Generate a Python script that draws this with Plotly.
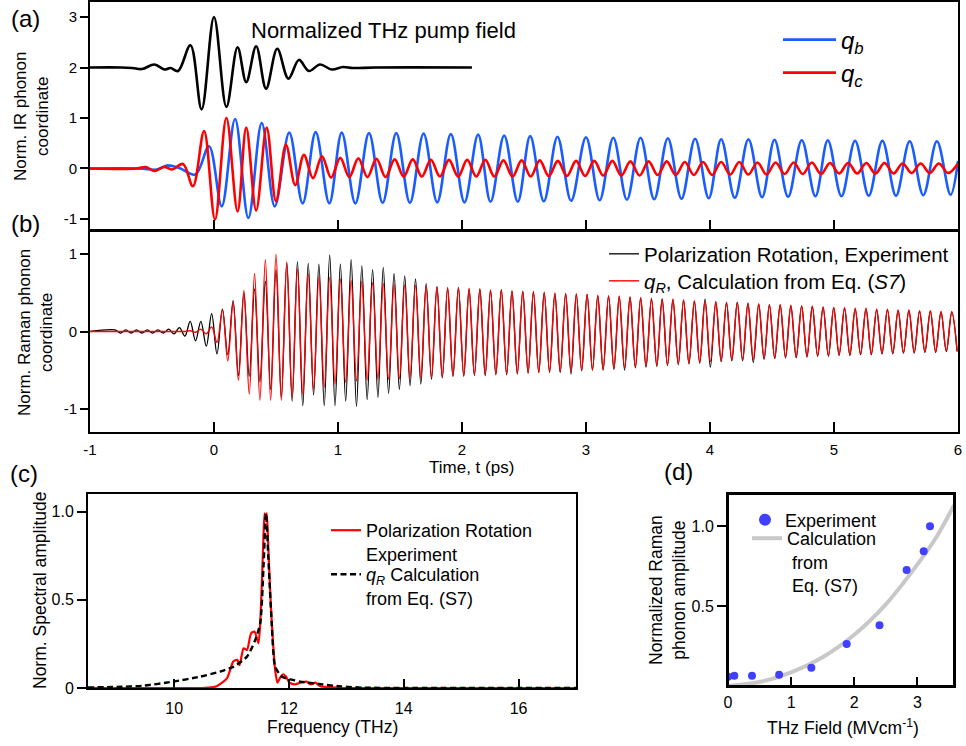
import plotly.graph_objects as go

# ---------------- DATA ----------------
# (a) normalized THz pump field (plotted around an offset of 2)
PUMP_T = [-1.0, -0.75, -0.66, -0.58, -0.48, -0.40, -0.35, -0.29, -0.19, -0.10, 0.0, 0.10, 0.19,
          0.26, 0.34, 0.42, 0.51, 0.60, 0.685, 0.765, 0.855, 0.95, 1.04, 1.12, 1.30, 2.08]
PUMP_V = [2.0, 2.0, 1.99, 1.97, 2.06, 1.96, 1.99, 1.93, 2.44, 1.17, 3.0, 1.22, 2.40,
          1.71, 2.42, 1.58, 2.37, 1.78, 2.15, 1.93, 2.06, 1.96, 2.01, 1.99, 2.0, 2.0]

# (a) IR phonon coordinate q_b (extrema)
QB_T = [-1.0, -0.60, -0.46, -0.38, -0.28, -0.15, -0.04,
        0.062, 0.17, 0.277, 0.385, 0.49, 0.607, 0.715, 0.82, 0.93, 1.03,
        1.14, 1.25, 1.36, 1.47, 1.58, 1.69, 1.80, 1.91, 2.02, 2.13,
        2.23, 2.34, 2.45, 2.55, 2.66, 2.77, 2.88, 3.00, 3.11, 3.22,
        3.33, 3.44, 3.55, 3.66, 3.77, 3.88, 3.99, 4.09, 4.20, 4.31,
        4.42, 4.52, 4.63, 4.74, 4.85, 4.95, 5.06, 5.17, 5.28, 5.39,
        5.50, 5.61, 5.72, 5.83, 5.94, 6.0]
QB_V = [0.0, 0.0, -0.02, 0.06, 0.01, -0.12, 0.44,
        -0.75, 0.98, -0.98, 0.90, -0.75, 0.71, -0.69, 0.72, -0.69, 0.71,
        -0.69, 0.70, -0.68, 0.70, -0.68, 0.69, -0.67, 0.68, -0.67, 0.67,
        -0.66, 0.65, -0.66, 0.64, -0.65, 0.63, -0.64, 0.62, -0.63, 0.61,
        -0.62, 0.61, -0.61, 0.60, -0.60, 0.59, -0.59, 0.58, -0.58, 0.58,
        -0.57, 0.57, -0.56, 0.56, -0.55, 0.56, -0.55, 0.55, -0.54, 0.55,
        -0.54, 0.54, -0.53, 0.54, -0.52, 0.15]

# (a) IR phonon coordinate q_c (extrema)
QC_T = [-1.0, -0.62, -0.55, -0.48, -0.40, -0.34, -0.25, -0.17, -0.08, 0.008,
        0.10, 0.19, 0.26, 0.34, 0.425, 0.50, 0.58, 0.655,
        0.725, 0.798, 0.871, 0.944, 1.018, 1.091, 1.164, 1.237, 1.310, 1.384,
        1.457, 1.530, 1.603, 1.676, 1.749, 1.822, 1.895, 1.969, 2.042, 2.115,
        2.188, 2.261, 2.334, 2.408, 2.481, 2.554, 2.627, 2.700, 2.773, 2.846,
        2.920, 2.993, 3.066, 3.139, 3.212, 3.285, 3.358, 3.432, 3.505, 3.578,
        3.651, 3.724, 3.797, 3.870, 3.944, 4.017, 4.090, 4.163, 4.236, 4.309,
        4.383, 4.456, 4.529, 4.602, 4.675, 4.748, 4.821, 4.895, 4.968, 5.041,
        5.114, 5.187, 5.260, 5.334, 5.407, 5.480, 5.553, 5.626, 5.699, 5.772,
        5.846, 5.919, 6.0]
QC_V = [0.0, 0.0, 0.03, -0.05, 0.03, -0.02, 0.09, -0.35, 0.74, -1.01,
        1.0, -0.85, 0.81, -0.83, 0.81, -0.65, 0.47, -0.33,
        0.27, -0.19, 0.24, -0.18, 0.21, -0.17, 0.20, -0.17, 0.19, -0.17,
        0.18, -0.16, 0.18, -0.16, 0.17, -0.16, 0.17, -0.16, 0.17, -0.16,
        0.17, -0.16, 0.16, -0.16, 0.16, -0.16, 0.16, -0.15, 0.15, -0.15,
        0.15, -0.15, 0.15, -0.14, 0.15, -0.14, 0.14, -0.14, 0.14, -0.13,
        0.14, -0.13, 0.13, -0.13, 0.13, -0.13, 0.13, -0.12, 0.13, -0.12,
        0.12, -0.12, 0.12, -0.11, 0.12, -0.11, 0.12, -0.11, 0.11, -0.10,
        0.11, -0.10, 0.11, -0.10, 0.11, -0.10, 0.10, -0.09, 0.10, -0.09,
        0.10, -0.09, 0.10]

# (b) Raman phonon coordinate: times of extrema, experiment (black) and calculation (red)
RAMAN_T = [-1.0,
    -0.798, -0.754, -0.711, -0.668, -0.625, -0.581, -0.538, -0.495, -0.452, -0.408,
    -0.365, -0.322, -0.279, -0.235, -0.192, -0.149, -0.106, -0.062, -0.019, 0.024,
    0.068, 0.111, 0.154, 0.197, 0.241, 0.284, 0.327, 0.370, 0.414, 0.457,
    0.500, 0.543, 0.587, 0.630, 0.673, 0.716, 0.760, 0.803, 0.846, 0.889,
    0.933, 0.976, 1.019, 1.062, 1.106, 1.149, 1.192, 1.235, 1.279, 1.322,
    1.365, 1.408, 1.452, 1.495, 1.538, 1.581, 1.625, 1.668, 1.711, 1.754,
    1.798, 1.841, 1.884, 1.927, 1.971, 2.014, 2.057, 2.100, 2.144, 2.187,
    2.230, 2.273, 2.317, 2.360, 2.403, 2.446, 2.490, 2.533, 2.576, 2.619,
    2.663, 2.706, 2.749, 2.792, 2.836, 2.879, 2.922, 2.965, 3.009, 3.052,
    3.095, 3.138, 3.182, 3.225, 3.268, 3.311, 3.355, 3.398, 3.441, 3.484,
    3.528, 3.571, 3.614, 3.657, 3.701, 3.744, 3.787, 3.830, 3.874, 3.917,
    3.960, 4.003, 4.047, 4.090, 4.133, 4.176, 4.220, 4.263, 4.306, 4.349,
    4.393, 4.436, 4.479, 4.522, 4.566, 4.609, 4.652, 4.695, 4.739, 4.782,
    4.825, 4.868, 4.912, 4.955, 4.998, 5.041, 5.085, 5.128, 5.171, 5.214,
    5.258, 5.301, 5.344, 5.387, 5.431, 5.474, 5.517, 5.560, 5.604, 5.647,
    5.690, 5.733, 5.777, 5.820, 5.863, 5.906, 5.950, 5.993]
RAMAN_EXP = [0.0,
    0.02, -0.02, 0.02, -0.02, 0.02, -0.02, 0.02, -0.02, 0.02, -0.02,
    0.03, -0.03, 0.05, -0.06, 0.13, -0.12, 0.13, -0.19, 0.23, -0.29,
    0.29, -0.30, 0.40, -0.57, 0.50, -0.58, 0.55, -0.65, 0.65, -0.75,
    0.80, -0.85, 0.88, -0.90, 0.90, -0.96, 0.88, -0.82, 0.87, -0.96,
    0.99, -0.96, 0.87, -0.90, 0.93, -0.97, 0.85, -0.88, 0.80, -0.85,
    0.83, -0.80, 0.75, -0.75, 0.72, -0.70, 0.68, -0.68, 0.62, -0.62,
    0.58, -0.60, 0.56, -0.58, 0.57, -0.58, 0.55, -0.57, 0.55, -0.57,
    0.53, -0.56, 0.54, -0.56, 0.52, -0.55, 0.52, -0.54, 0.51, -0.53,
    0.50, -0.53, 0.49, -0.53, 0.49, -0.55, 0.48, -0.51, 0.48, -0.50,
    0.46, -0.50, 0.46, -0.49, 0.45, -0.50, 0.44, -0.47, 0.43, -0.46,
    0.42, -0.45, 0.42, -0.44, 0.41, -0.43, 0.40, -0.42, 0.39, -0.41,
    0.42, -0.46, 0.38, -0.39, 0.37, -0.38, 0.38, -0.38, 0.36, -0.40,
    0.35, -0.36, 0.34, -0.35, 0.34, -0.34, 0.33, -0.34, 0.33, -0.33,
    0.32, -0.32, 0.31, -0.32, 0.31, -0.31, 0.30, -0.31, 0.29, -0.30,
    0.29, -0.30, 0.28, -0.29, 0.28, -0.29, 0.27, -0.28, 0.27, -0.28,
    0.26, -0.27, 0.26, -0.27, 0.25, -0.26, 0.25, -0.26]
RAMAN_CALC = [0.0,
    0.0, 0.0, 0.0, 0.0, 0.0, 0.0, 0.0, 0.0, 0.0, 0.0,
    0.0, 0.0, 0.0, 0.0, 0.01, -0.01, 0.03, -0.03, 0.06, -0.14,
    0.28, -0.38, 0.38, -0.63, 0.53, -0.81, 0.75, -0.89, 0.93, -0.89,
    1.00, -0.89, 0.90, -0.85, 0.81, -0.81, 0.75, -0.74, 0.71, -0.72,
    0.70, -0.68, 0.68, -0.66, 0.66, -0.64, 0.65, -0.63, 0.63, -0.62,
    0.62, -0.62, 0.61, -0.61, 0.60, -0.60, 0.60, -0.60, 0.59, -0.59,
    0.58, -0.59, 0.57, -0.58, 0.56, -0.57, 0.56, -0.56, 0.55, -0.56,
    0.54, -0.55, 0.54, -0.55, 0.53, -0.54, 0.52, -0.53, 0.52, -0.53,
    0.51, -0.52, 0.50, -0.52, 0.49, -0.51, 0.49, -0.50, 0.48, -0.50,
    0.47, -0.49, 0.46, -0.48, 0.46, -0.47, 0.45, -0.46, 0.44, -0.45,
    0.43, -0.44, 0.42, -0.43, 0.42, -0.42, 0.41, -0.41, 0.40, -0.40,
    0.39, -0.39, 0.39, -0.38, 0.38, -0.37, 0.37, -0.37, 0.37, -0.36,
    0.36, -0.35, 0.35, -0.34, 0.35, -0.33, 0.34, -0.33, 0.33, -0.32,
    0.33, -0.31, 0.32, -0.31, 0.31, -0.30, 0.31, -0.30, 0.30, -0.29,
    0.30, -0.29, 0.29, -0.28, 0.29, -0.28, 0.28, -0.27, 0.28, -0.27,
    0.27, -0.26, 0.27, -0.26, 0.26, -0.25, 0.26, -0.25]

# (c) normalized spectral amplitude
FREQ_EXP = [8.5, 9.5, 10.5, 10.74, 10.92, 11.03, 11.10, 11.14, 11.21, 11.27, 11.34, 11.40,
            11.47, 11.51, 11.55, 11.575, 11.595, 11.615, 11.64, 11.68, 11.72, 11.76, 11.80,
            11.85, 11.90, 11.95, 12.01, 12.10, 12.20, 12.31, 12.38, 12.46, 12.55, 12.70,
            12.90, 13.5, 15.0, 17.0]
SPEC_EXP = [0.0, 0.0, 0.0, 0.01, 0.055, 0.15, 0.16, 0.13, 0.225, 0.216, 0.31, 0.32,
            0.254, 0.44, 0.80, 0.99, 0.96, 0.99, 0.80, 0.50, 0.27, 0.10, 0.03,
            0.06, 0.078, 0.064, 0.03, 0.02, 0.03, 0.036, 0.02, 0.03, 0.01, 0.005,
            0.0, 0.0, 0.0, 0.0]
FREQ_CALC = [8.5, 9.0, 9.46, 9.98, 10.45, 10.80, 11.03, 11.27, 11.41, 11.50, 11.56, 11.60,
             11.64, 11.70, 11.76, 11.88, 12.08, 12.20, 12.55, 12.90, 13.30, 14.0, 17.0]
SPEC_CALC = [0.003, 0.006, 0.013, 0.036, 0.064, 0.093, 0.12, 0.178, 0.27, 0.367, 0.71, 0.99,
             0.746, 0.367, 0.12, 0.064, 0.045, 0.036, 0.022, 0.009, 0.002, 0.0, 0.0]

# (d) Raman phonon amplitude vs THz field
FIELD_EXP = [0.0, 0.10, 0.38, 0.81, 1.32, 1.88, 2.40, 2.83, 3.10, 3.20]
AMP_EXP = [0.058, 0.064, 0.064, 0.071, 0.114, 0.263, 0.379, 0.725, 0.842, 0.998]
FIELD_CALC = [0.0, 0.5, 1.0, 1.5, 2.0, 2.5, 3.0, 3.3, 3.58]
AMP_CALC = [0.0, 0.025, 0.085, 0.18, 0.32, 0.51, 0.76, 0.93, 1.13]

# tick labels
T_TICKS = [-1, 0, 1, 2, 3, 4, 5, 6]
T_LABELS = ["-1", "0", "1", "2", "3", "4", "5", "6"]
A_TICKS = [-1, 0, 1, 2, 3]
A_LABELS = ["-1", "0", "1", "2", "3"]
B_TICKS = [-1, 0, 1]
B_LABELS = ["-1", "0", "1"]
C_XTICKS = [10, 12, 14, 16]
C_YTICKS = [0, 0.5, 1.0]
C_YLABELS = ["0", "0.5", "1.0"]
D_XTICKS = [0, 1, 2, 3]
D_YTICKS = [0.5, 1.0]
D_YLABELS = ["0.5", "1.0"]

# ---------------- FIGURE ----------------
W, H = 966, 746
FONT = "Liberation Sans, Arial, Helvetica, sans-serif"
BLUE = "#1a5cff"
RED = "#ff0000"


def fx(p):
    return p / W


def fy(p):
    return 1 - p / H


fig = go.Figure()

# (a)
fig.add_trace(go.Scatter(x=PUMP_T, y=PUMP_V, mode="lines", showlegend=False,
                         line=dict(color="black", width=2.6, shape="spline"),
                         xaxis="x", yaxis="y"))
fig.add_trace(go.Scatter(x=QB_T, y=QB_V, mode="lines", name="<i>q</i><sub><i>b</i></sub>",
                         line=dict(color=BLUE, width=2.6, shape="spline"),
                         xaxis="x", yaxis="y", legend="legend"))
fig.add_trace(go.Scatter(x=QC_T, y=QC_V, mode="lines", name="<i>q</i><sub><i>c</i></sub>",
                         line=dict(color=RED, width=2.6, shape="spline"),
                         xaxis="x", yaxis="y", legend="legend2"))

# (b)
fig.add_trace(go.Scatter(x=RAMAN_T, y=RAMAN_EXP, mode="lines",
                         name="Polarization Rotation, Experiment",
                         line=dict(color="black", width=1.3, shape="spline"),
                         xaxis="x2", yaxis="y2", legend="legend3"))
fig.add_trace(go.Scatter(x=RAMAN_T, y=RAMAN_CALC, mode="lines",
                         name="<i>q</i><sub><i>R</i></sub>, Calculation from Eq. (<i>S7</i>)",
                         line=dict(color=RED, width=1.4, shape="spline"),
                         xaxis="x2", yaxis="y2", legend="legend4"))

# (c)
fig.add_trace(go.Scatter(x=FREQ_EXP, y=SPEC_EXP, mode="lines",
                         name="Polarization Rotation<br>Experiment",
                         line=dict(color=RED, width=2.2, shape="spline", smoothing=0.6),
                         xaxis="x3", yaxis="y3", legend="legend5"))
fig.add_trace(go.Scatter(x=FREQ_CALC, y=SPEC_CALC, mode="lines",
                         name="<i>q</i><sub><i>R</i></sub> Calculation<br>from Eq. (S7)",
                         line=dict(color="black", width=2.4, dash="6px,3.5px",
                                   shape="spline", smoothing=0.6),
                         xaxis="x3", yaxis="y3", legend="legend6"))

# (d)
fig.add_trace(go.Scatter(x=FIELD_CALC, y=AMP_CALC, mode="lines",
                         name="Calculation<br>&nbsp;from<br>&nbsp;Eq. (S7)",
                         line=dict(color="#c8c8c8", width=4, shape="spline"),
                         xaxis="x4", yaxis="y4", legend="legend8"))
fig.add_trace(go.Scatter(x=FIELD_EXP, y=AMP_EXP, mode="markers", name="Experiment",
                         marker=dict(color="#4040ff", size=8),
                         xaxis="x4", yaxis="y4", legend="legend7"))

axis_common = dict(showline=True, linecolor="black", linewidth=2, mirror=True,
                   showgrid=False, zeroline=False, tickcolor="black", tickwidth=1.6,
                   automargin=False,
                   tickfont=dict(family=FONT, size=15, color="black"))


def leg(x, y, size, yanchor="middle", valign="middle", **kw):
    d = dict(x=fx(x), y=fy(y), xanchor="left", yanchor=yanchor, valign=valign,
             font=dict(family=FONT, size=size, color="black"),
             bgcolor="rgba(0,0,0,0)", borderwidth=0)
    d.update(kw)
    return d


fig.update_layout(
    width=W, height=H,
    margin=dict(l=0, r=0, t=0, b=0, autoexpand=False),
    paper_bgcolor="white", plot_bgcolor="white",
    font=dict(family=FONT, color="black"),
    xaxis=dict(axis_common, domain=[fx(90), fx(958)], anchor="y", range=[-1, 6],
               tickvals=T_TICKS, ticks="inside", ticklen=10, showticklabels=False),
    yaxis=dict(axis_common, domain=[fy(230), fy(2)], anchor="x", range=[-1.218, 3.297],
               tickvals=A_TICKS, ticktext=A_LABELS, ticks="outside", ticklen=8),
    xaxis2=dict(axis_common, domain=[fx(90), fx(958)], anchor="y2", range=[-1, 6],
                tickvals=T_TICKS, ticktext=T_LABELS, ticks="inside", ticklen=10,
                ticklabelstandoff=3),
    yaxis2=dict(axis_common, domain=[fy(432), fy(231)], anchor="x2", range=[-1.30, 1.30],
                tickvals=B_TICKS, ticktext=B_LABELS, ticks="outside", ticklen=8),
    xaxis3=dict(axis_common, domain=[fx(88), fx(576)], anchor="y3", range=[8.5, 17.0],
                tickvals=C_XTICKS, ticks="inside", ticklen=9, ticklabelstandoff=5,
                tickfont=dict(family=FONT, size=16, color="black")),
    yaxis3=dict(axis_common, domain=[fy(688), fy(494)], anchor="x3", range=[0, 1.10],
                tickvals=C_YTICKS, ticktext=C_YLABELS, ticks="outside", ticklen=9,
                tickfont=dict(family=FONT, size=16, color="black")),
    xaxis4=dict(axis_common, domain=[fx(728), fx(954)], anchor="y4", range=[0, 3.58],
                tickvals=D_XTICKS, ticks="inside", ticklen=9, ticklabelstandoff=1,
                tickfont=dict(family=FONT, size=16, color="black")),
    yaxis4=dict(axis_common, domain=[fy(686), fy(494)], anchor="x4", range=[0, 1.2],
                tickvals=D_YTICKS, ticktext=D_YLABELS, ticks="outside", ticklen=9,
                tickfont=dict(family=FONT, size=16, color="black")),
    legend=leg(778, 40, 24, itemwidth=53),
    legend2=leg(778, 73, 24, itemwidth=53),
    legend3=leg(604, 254, 20.5),
    legend4=leg(604, 281, 20.5),
    legend5=leg(326, 512, 18, yanchor="top", valign="top"),
    legend6=leg(326, 556, 18, yanchor="top", valign="top"),
    legend7=leg(745, 520, 18, itemsizing="constant"),
    legend8=leg(747, 520, 18, yanchor="top", valign="top"),
)

# frame of panel (d), drawn on the axis domain
fig.add_shape(type="rect", xref="x4 domain", yref="y4 domain", x0=0, x1=1, y0=0, y1=1,
              line=dict(color="black", width=2), fillcolor="rgba(0,0,0,0)", layer="above")


def ann(text, x, y, size, angle=0, xanchor="center", yanchor="middle"):
    fig.add_annotation(text=text, x=fx(x), y=fy(y), xref="paper", yref="paper",
                       showarrow=False, textangle=angle, xanchor=xanchor, yanchor=yanchor,
                       font=dict(family=FONT, size=size, color="black"))


ann("(a)", 25, 18, 24)
ann("(b)", 25, 224, 24)
ann("(c)", 24, 473, 24)
ann("(d)", 678, 471, 24)
ann("Normalized THz pump field", 249, 30, 22, xanchor="left")
ann("Norm. IR phonon<br>coordinate", 31, 117, 17, angle=-90)
ann("Norm. Raman phonon<br>coordinate", 35, 333, 17, angle=-90)
ann("Norm. Spectral amplitude", 40, 591, 17.5, angle=-90)
ann("Normalized Raman<br>phonon amplitude", 667, 590, 17.5, angle=-90)
ann("Time, t (ps)", 471, 467, 17)
ann("Frequency (THz)", 332, 727, 17.5)
ann("THz Field (MVcm<sup>-1</sup>)", 843, 727, 17.5)

fig.write_html("out.html", config={"displayModeBar": False},
               post_script="document.body.style.margin='0px';document.body.style.overflow='hidden';")
